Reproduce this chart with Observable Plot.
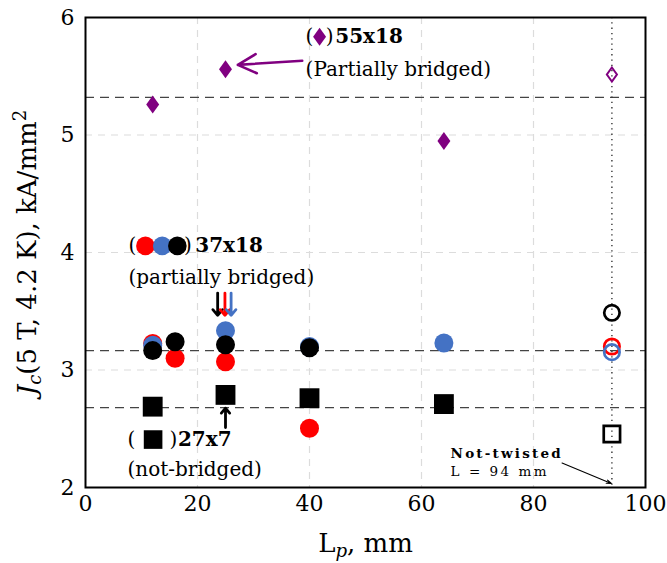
<!DOCTYPE html>
<html><head><meta charset="utf-8">
<script src="https://cdn.jsdelivr.net/npm/d3@7"></script>
<script src="https://cdn.jsdelivr.net/npm/@observablehq/plot@0.6"></script>
<style>body{margin:0;background:#fff;}</style>
</head><body><div id="chart"></div>
<script>
// ---- data ----
const lpRed = [12, 16, 25, 40];
const jcRed = [3.225, 3.10, 3.07, 2.505];
const lpBlue = [12, 25, 40, 64];
const jcBlue = [3.21, 3.335, 3.20, 3.23];
const lpBlack = [12, 16, 25, 40];
const jcBlack = [3.165, 3.24, 3.215, 3.19];
const lpSquare = [12, 25, 40, 64];
const jcSquare = [2.688, 2.788, 2.76, 2.71];
const lpDiamond = [12, 25, 64];
const jcDiamond = [5.26, 5.56, 4.95];
const lpNotTwisted = 94;
const ntSeries = ["diamond", "red", "blue", "black", "square"];
const ntJc = [5.515, 3.20, 3.152, 3.487, 2.455];
const refJc = [5.32, 3.165, 2.68];
const gridX = [20, 40, 60, 80];
const gridY = [3, 4, 5];
const xTicks = [0, 20, 40, 60, 80, 100];
const yTicks = [2, 3, 4, 5, 6];
const groupNames = ["55x18", "37x18", "27x7"];
const groupNotes = ["(Partially bridged)", "(partially bridged)", "(not-bridged)"];
const ntNotes = ["Not-twisted", "L = 94 mm"];

// ---- helpers ----
const rows = (xs, ys) => xs.map((x, i) => ({x, y: ys[i]}));
const nt = Object.fromEntries(ntSeries.map((s, i) => [s, [{x: lpNotTwisted, y: ntJc[i]}]]));
const tallDiamond = {
  draw(ctx, size) {
    const r = Math.sqrt(size / Math.PI), w = r * 0.72;
    ctx.moveTo(0, -r); ctx.lineTo(w, 0); ctx.lineTo(0, r); ctx.lineTo(-w, 0); ctx.closePath();
  }
};
const RED = "#ff0000", BLUE = "#4472c4", PURPLE = "#800080";

// annotation placement (data coordinates)
const labelRows = [
  {y: 5.836, yNote: 5.555, open: 39.3, close: 42.9, name: 44.6, note: 39.3},
  {y: 4.056, yNote: 3.786, open: 7.68, close: 17.6, name: 19.6, note: 7.68},
  {y: 2.408, yNote: 2.156, open: 7.5, close: 15.0, name: 16.5, note: 7.5}
];
const parens = labelRows.flatMap(d => [{x: d.open, y: d.y, t: "("}, {x: d.close, y: d.y, t: ")"}]);
const names = labelRows.map((d, i) => ({x: d.name, y: d.y, t: groupNames[i]}));
const notes = labelRows.map((d, i) => ({x: d.note, y: d.yNote, t: groupNotes[i]}));

const plot = Plot.plot({
  width: 667, height: 563,
  marginLeft: 85, marginRight: 22, marginTop: 17, marginBottom: 76,
  style: {fontFamily: "DejaVu Serif", background: "#fff", color: "#000"},
  x: {domain: [0, 100]},
  y: {domain: [2, 6]},
  marks: [
    Plot.ruleX(gridX, {stroke: "#dcdcdc", strokeDasharray: "7,6", strokeWidth: 1.2}),
    Plot.ruleY(gridY, {stroke: "#dcdcdc", strokeDasharray: "7,6", strokeWidth: 1.2}),
    Plot.ruleY(refJc, {stroke: "#444", strokeDasharray: "9,6", strokeWidth: 1.3}),
    Plot.ruleX([lpNotTwisted], {stroke: "#333", strokeDasharray: "1.3,4", strokeWidth: 1.4}),
    // twisted samples
    Plot.dot(rows(lpDiamond, jcDiamond), {x: "x", y: "y", symbol: tallDiamond, r: 9, fill: PURPLE}),
    Plot.dot(rows(lpRed, jcRed), {x: "x", y: "y", r: 9.5, fill: RED}),
    Plot.dot(rows(lpBlue, jcBlue), {x: "x", y: "y", r: 9.5, fill: BLUE}),
    Plot.dot(rows(lpBlack, jcBlack), {x: "x", y: "y", r: 9.5, fill: "black"}),
    Plot.dot(rows(lpSquare, jcSquare), {x: "x", y: "y", symbol: "square", r: 11.2, fill: "black"}),
    // not twisted
    Plot.dot(nt.diamond, {x: "x", y: "y", symbol: tallDiamond, r: 7, fill: "none", stroke: PURPLE, strokeWidth: 2}),
    Plot.dot(nt.red, {x: "x", y: "y", r: 7.7, fill: "none", stroke: RED, strokeWidth: 2.7}),
    Plot.dot(nt.blue, {x: "x", y: "y", r: 7.7, fill: "none", stroke: BLUE, strokeWidth: 2.7}),
    Plot.dot(nt.black, {x: "x", y: "y", r: 7.7, fill: "none", stroke: "black", strokeWidth: 2.7}),
    Plot.dot(nt.square, {x: "x", y: "y", symbol: "square", r: 9.2, fill: "none", stroke: "black", strokeWidth: 2.7}),
    // arrows
    Plot.arrow([{x1: 38.7, y1: 5.632, x2: 27.2, y2: 5.597}], {x1: "x1", y1: "y1", x2: "x2", y2: "y2", stroke: PURPLE, strokeWidth: 2.6, headLength: 12, headAngle: 55}),
    Plot.arrow([
      {x: 23.6, c: "black"}, {x: 24.9, c: RED}, {x: 26.0, c: BLUE}
    ], {x1: "x", x2: "x", y1: 3.655, y2: 3.465, stroke: "c", strokeWidth: 2.8, headLength: 8, headAngle: 80}),
    Plot.arrow([{x: 25, y1: 2.51, y2: 2.675}], {x1: "x", x2: "x", y1: "y1", y2: "y2", stroke: "black", strokeWidth: 2.8, headLength: 8, headAngle: 80}),
    Plot.arrow([{x1: 85.1, y1: 2.208, x2: 93.9, y2: 2.034}], {x1: "x1", y1: "y1", x2: "x2", y2: "y2", stroke: "black", strokeWidth: 1.1, headLength: 7, headAngle: 40}),
    // legend-like annotations
    Plot.text(parens, {x: "x", y: "y", text: "t", textAnchor: "start", fontSize: 20, fill: "black"}),
    Plot.text(names, {x: "x", y: "y", text: "t", textAnchor: "start", fontSize: 20, fontWeight: "bold", fill: "black"}),
    Plot.text(notes, {x: "x", y: "y", text: "t", textAnchor: "start", fontSize: 20, fill: "black"}),
    Plot.dot([{x: 41.8, y: 5.836}], {x: "x", y: "y", symbol: tallDiamond, r: 9, fill: PURPLE}),
    Plot.dot([{x: 10.7, y: 4.056, c: RED}, {x: 13.7, y: 4.056, c: BLUE}, {x: 16.4, y: 4.056, c: "black"}], {x: "x", y: "y", r: 9.3, fill: "c"}),
    Plot.dot([{x: 12.07, y: 2.408}], {x: "x", y: "y", symbol: "square", r: 10.5, fill: "black"}),
    Plot.text([{x: 65.2, y: 2.292, t: ntNotes[0]}], {x: "x", y: "y", text: "t", textAnchor: "start", fontSize: 13.5, fontWeight: "bold", fill: "black"}),
    Plot.text([{x: 65.2, y: 2.131, t: ntNotes[1]}], {x: "x", y: "y", text: "t", textAnchor: "start", fontSize: 13.5, fill: "black"}),
    Plot.frame({stroke: "black", strokeWidth: 2}),
    Plot.axisX({ticks: xTicks, tickFormat: d => String(d), tickSize: 0, tickPadding: 8, fontSize: 22, label: "Lp, mm", labelAnchor: "center", labelOffset: 64}),
    Plot.axisY({ticks: yTicks, tickFormat: d => String(d), tickSize: 0, tickPadding: 11, fontSize: 22, label: "Jc", labelAnchor: "center", labelOffset: 68})
  ]
});
document.getElementById("chart").appendChild(plot);

// rich axis labels (subscripts / superscripts) and wider small notes
const svg = d3.select(plot);
svg.selectAll('[aria-label$="tick label"]').attr("font-size", 22);
svg.selectAll('[aria-label$="axis label"]').attr("font-size", 26);
const ntWidths = [110, 96];
svg.selectAll("text").each(function () {
  const i = ntNotes.indexOf(this.textContent);
  if (i >= 0) d3.select(this).attr("textLength", ntWidths[i]).attr("lengthAdjust", "spacing");
});
const xl = svg.select('[aria-label="x-axis label"] text');
xl.text(null);
xl.append("tspan").text("L");
xl.append("tspan").attr("font-size", "0.7em").attr("font-style", "italic").attr("dy", "0.3em").text("p");
xl.append("tspan").attr("dy", "-0.21em").text(", mm");
const yl = svg.select('[aria-label="y-axis label"] text');
yl.text(null);
yl.append("tspan").attr("font-style", "italic").text("J");
yl.append("tspan").attr("font-size", "0.7em").attr("font-style", "italic").attr("dy", "0.3em").text("c");
yl.append("tspan").attr("dy", "-0.21em").text("(5 T, 4.2 K), kA/mm");
yl.append("tspan").attr("font-size", "0.7em").attr("dy", "-0.55em").text("2");
</script>
</body></html>
